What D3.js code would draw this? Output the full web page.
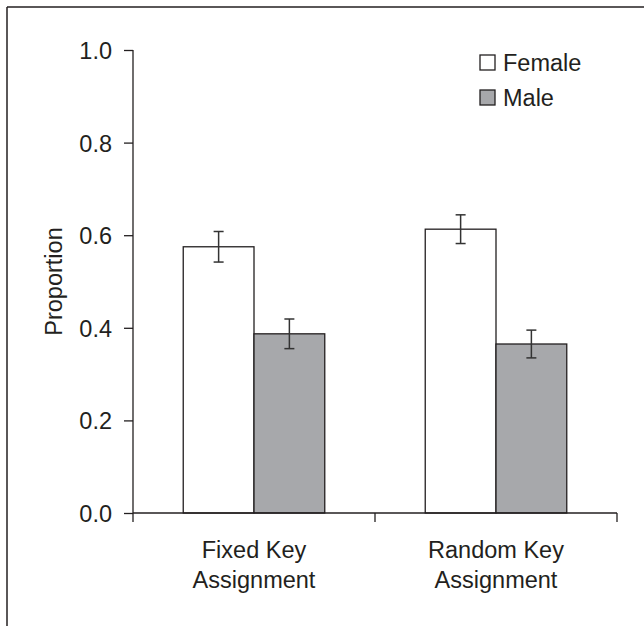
<!DOCTYPE html>
<html>
<head>
<meta charset="utf-8">
<script src="https://cdn.jsdelivr.net/npm/d3@7"></script>
<style>
  body { margin: 0; background: #fff; }
  svg text { font-family: "Liberation Sans", Arial, sans-serif; fill: #231f20; }
</style>
</head>
<body>
<svg id="chart" width="644" height="626"></svg>
<script>
// data
var categories = ["Fixed Key Assignment", "Random Key Assignment"];
var categoryLines = [["Fixed Key", "Assignment"], ["Random Key", "Assignment"]];
var groups = ["Female", "Male"];
var femaleValues = [0.575, 0.613];
var maleValues = [0.387, 0.365];
var femaleErrors = [0.033, 0.031];
var maleErrors = [0.032, 0.030];
var yTicks = [0.0, 0.2, 0.4, 0.6, 0.8, 1.0];

var svg = d3.select("#chart");
var ink = "#231f20";
var fills = { Female: "#ffffff", Male: "#a7a8ab" };

var margin = { left: 133, right: 27, top: 50, bottom: 113 };
var W = 644, H = 626;

var x = d3.scaleBand().domain(categories)
    .range([margin.left, W - margin.right]).paddingInner(0).paddingOuter(0);
var inner = d3.scaleBand().domain(groups).range([0, x.bandwidth()]).paddingInner(0).paddingOuter(0.71);
var y = d3.scaleLinear().domain([0, 1]).range([H - margin.bottom, margin.top]);

// frame lines (top and left only)
svg.append("line").attr("x1", 7).attr("x2", W).attr("y1", 7).attr("y2", 7)
    .attr("stroke", ink).attr("stroke-width", 1.5);
svg.append("line").attr("x1", 7).attr("x2", 7).attr("y1", 7).attr("y2", H)
    .attr("stroke", ink).attr("stroke-width", 1.5);

// rows of bar data
var rows = [];
categories.forEach(function (c, i) {
    rows.push({ cat: c, group: "Female", value: femaleValues[i], err: femaleErrors[i] });
    rows.push({ cat: c, group: "Male", value: maleValues[i], err: maleErrors[i] });
});

svg.append("g").selectAll("rect").data(rows).enter().append("rect")
    .attr("x", function (d) { return x(d.cat) + inner(d.group); })
    .attr("y", function (d) { return y(d.value); })
    .attr("width", inner.bandwidth())
    .attr("height", function (d) { return y(0) - y(d.value); })
    .attr("fill", function (d) { return fills[d.group]; })
    .attr("stroke", ink).attr("stroke-width", 1.3);

// error bars
var eb = svg.append("g").attr("stroke", "#333").attr("stroke-width", 1.5);
rows.forEach(function (d) {
    var cx = x(d.cat) + inner(d.group) + inner.bandwidth() / 2;
    eb.append("line").attr("x1", cx).attr("x2", cx)
        .attr("y1", y(d.value + d.err)).attr("y2", y(d.value - d.err));
    [d.value + d.err, d.value - d.err].forEach(function (v) {
        eb.append("line").attr("x1", cx - 5).attr("x2", cx + 5)
            .attr("y1", y(v)).attr("y2", y(v));
    });
});

// y axis
var yAxis = svg.append("g").attr("transform", "translate(" + margin.left + ",0)")
    .call(d3.axisLeft(y).tickValues(yTicks).tickFormat(d3.format(".1f")).tickSize(9).tickPadding(12));
yAxis.select(".domain").attr("d", "M0," + y(1) + "V" + (y(0) + 9)).attr("stroke", ink).attr("stroke-width", 1.3);
yAxis.selectAll(".tick line").attr("stroke", ink).attr("stroke-width", 1.3);
yAxis.selectAll("text").attr("font-size", "23.5px").attr("fill", ink).attr("dy", "0.36em");

// x axis
var x0 = margin.left, x1 = W - margin.right;
var xAxis = svg.append("g").attr("transform", "translate(0," + y(0) + ")");
xAxis.append("line").attr("x1", x0).attr("x2", x1).attr("stroke", ink).attr("stroke-width", 1.3);
var xTickPos = [x(categories[1]), x1];
xAxis.selectAll(".xt").data(xTickPos).enter().append("line")
    .attr("x1", function (d) { return d; }).attr("x2", function (d) { return d; })
    .attr("y1", 0).attr("y2", 9).attr("stroke", ink).attr("stroke-width", 1.3);

categories.forEach(function (c, i) {
    var t = svg.append("text").attr("text-anchor", "middle").attr("font-size", "23.5px")
        .attr("x", x(c) + x.bandwidth() / 2).attr("y", 558);
    categoryLines[i].forEach(function (line, j) {
        t.append("tspan").attr("x", x(c) + x.bandwidth() / 2).attr("dy", j === 0 ? 0 : 30).text(line);
    });
});

// y label
svg.append("text").attr("transform", "translate(62," + ((y(0) + y(1)) / 2) + ") rotate(-90)")
    .attr("text-anchor", "middle").attr("font-size", "23.5px").text("Proportion");

// legend
var legend = svg.append("g").attr("transform", "translate(480,55)");
groups.forEach(function (g, i) {
    var row = legend.append("g").attr("transform", "translate(0," + (i * 35) + ")");
    row.append("rect").attr("width", 15).attr("height", 15)
        .attr("fill", fills[g]).attr("stroke", ink).attr("stroke-width", 1.3);
    row.append("text").attr("x", 23).attr("y", 16).attr("font-size", "23.5px").text(g);
});
</script>
</body>
</html>
